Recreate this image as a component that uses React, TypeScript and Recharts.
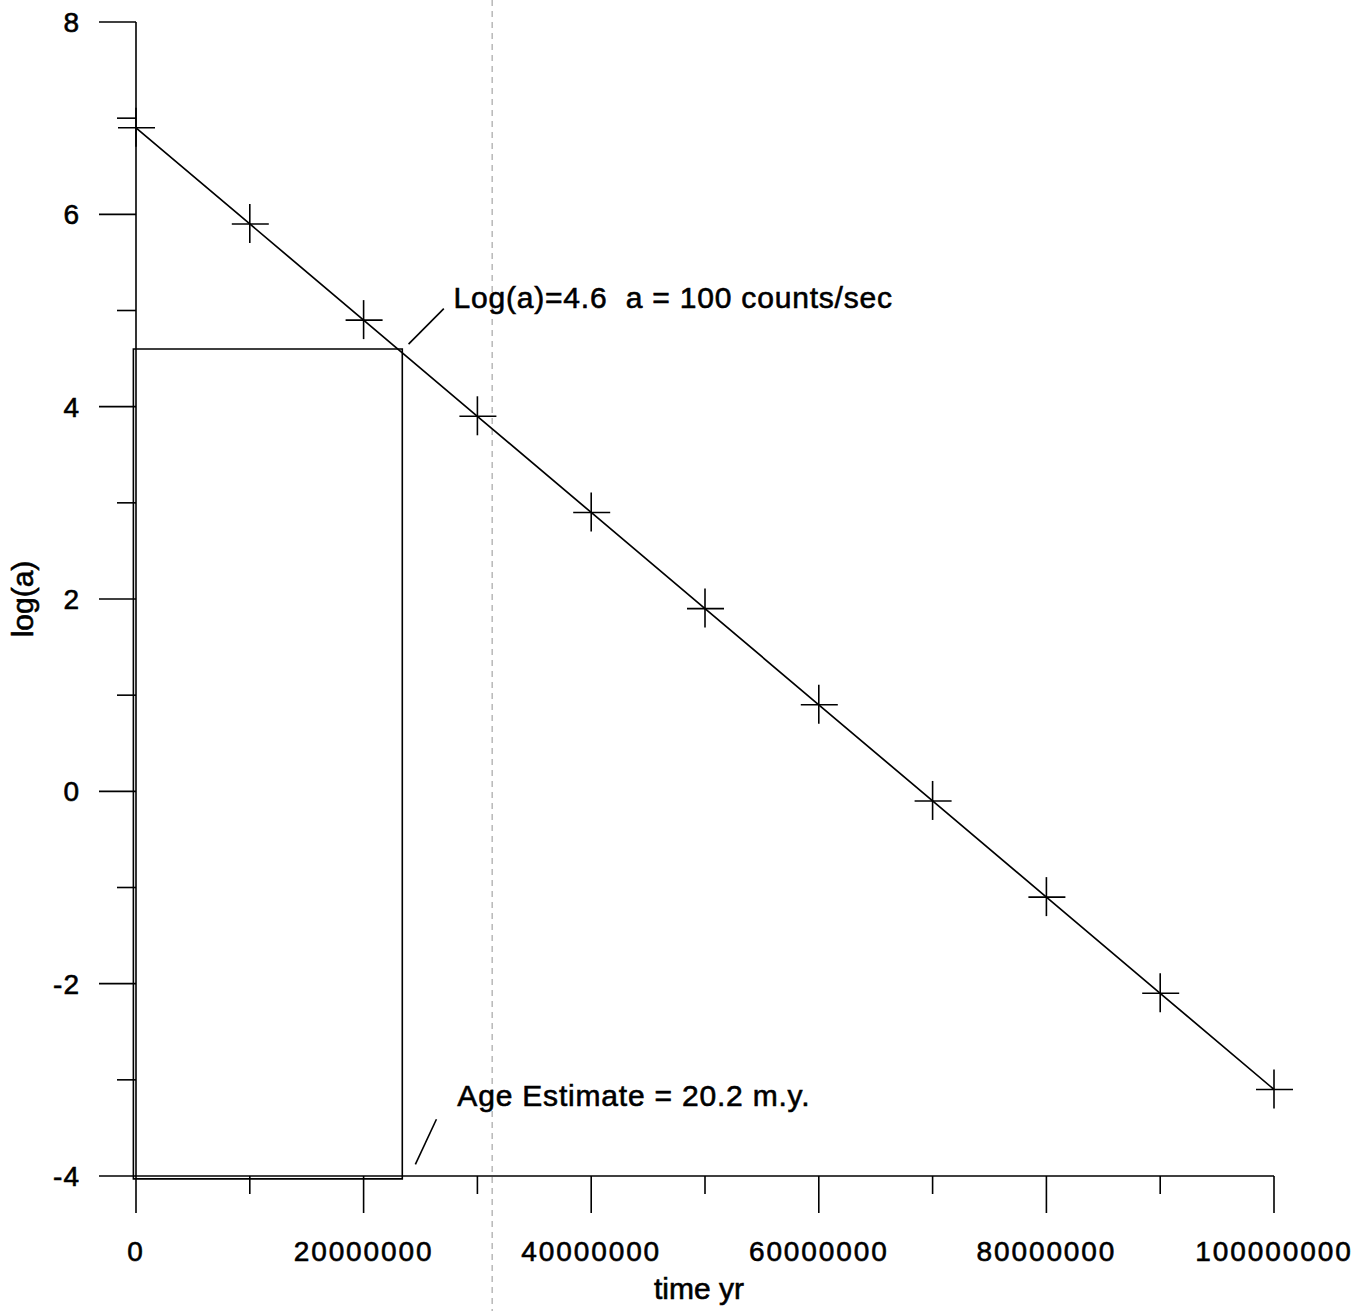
import React from "react";
import {
  ComposedChart,
  Line,
  XAxis,
  YAxis,
  ReferenceArea,
  ReferenceLine,
  ReferenceDot,
} from "recharts";

// time in years and measured log(activity)
const times = [0, 10000000, 20000000, 30000000, 40000000, 50000000, 60000000, 70000000, 80000000, 90000000, 100000000];
const logA = [6.9, 5.9, 4.9, 3.9, 2.9, 1.9, 0.9, -0.1, -1.1, -2.1, -3.1];

const xTicks = [0, 10000000, 20000000, 30000000, 40000000, 50000000, 60000000, 70000000, 80000000, 90000000, 100000000];
const yTicks = [-4, -3, -2, -1, 0, 1, 2, 3, 4, 5, 6, 7, 8];

// reading box: log(a)=4.6 meets the line
const boxX = [-230000, 23400000];
const boxY = [-4.03, 4.6];
const markerX = 31300000;

const leaderTop = [{ x: 23950000, y: 4.65 }, { x: 27050000, y: 5.02 }];
const leaderBottom = [{ x: 24550000, y: -3.88 }, { x: 26400000, y: -3.41 }];

const notes = [
  { x: 27900000, y: 5.03, text: "Log(a)=4.6  a = 100 counts/sec" },
  { x: 28240000, y: -3.27, text: "Age Estimate = 20.2 m.y." },
];

const data = times.map((t, i) => ({ t, v: logA[i] }));

const FONT = "'Liberation Sans', Arial, Helvetica, sans-serif";
const ink = { fill: "#000", stroke: "#000", strokeWidth: 0.6 };

const XTick = (props: any) => {
  const { x, y, payload } = props;
  const major = payload.value % 20000000 === 0;
  return (
    <g>
      <line x1={x} x2={x} y1={y} y2={y + (major ? 37 : 18)} stroke="#000" strokeWidth={1.6} />
      {major && (
        <text x={x} y={y + 85} textAnchor="middle" fontFamily={FONT} fontSize={28} letterSpacing={1.9} {...ink}>
          {payload.value}
        </text>
      )}
    </g>
  );
};

const YTick = (props: any) => {
  const { x, y, payload } = props;
  const major = payload.value % 2 === 0;
  return (
    <g>
      <line x1={x - (major ? 37 : 19)} x2={x} y1={y} y2={y} stroke="#000" strokeWidth={1.6} />
      {major && (
        <text x={x - 56} y={y} dy="0.36em" textAnchor="end" fontFamily={FONT} fontSize={28} letterSpacing={1} {...ink}>
          {payload.value}
        </text>
      )}
    </g>
  );
};

const Cross = (props: any) => {
  const { cx, cy, index } = props;
  if (cx == null || cy == null) return <g key={index} />;
  return (
    <g key={index}>
      <line x1={cx - 18} x2={cx + 19} y1={cy} y2={cy} stroke="#000" strokeWidth={1.6} />
      <line x1={cx} x2={cx} y1={cy - 20} y2={cy + 19} stroke="#000" strokeWidth={1.6} />
    </g>
  );
};

export default function App() {
  return (
    <div style={{ position: "absolute", left: 0, top: 0, width: 1364, height: 1311, background: "#fff" }}>
      <ComposedChart
        width={1364}
        height={1311}
        data={data}
        margin={{ top: 22, right: 90, bottom: 0, left: 0 }}
      >
        <XAxis
          type="number"
          dataKey="t"
          domain={[0, 100000000]}
          ticks={xTicks}
          interval={0}
          height={135}
          tickSize={0}
          tickMargin={0}
          tickLine={false}
          axisLine={{ stroke: "#000", strokeWidth: 1.6 }}
          tick={<XTick />}
          label={(p: any) => (
            <text
              x={p.viewBox.x + p.viewBox.width / 2 - 6}
              y={p.viewBox.y + 123}
              textAnchor="middle"
              fontFamily={FONT}
              fontSize={30}
              {...ink}
            >
              time yr
            </text>
          )}
        />
        <YAxis
          type="number"
          domain={[-4, 8]}
          ticks={yTicks}
          interval={0}
          width={136}
          tickSize={0}
          tickMargin={0}
          tickLine={false}
          axisLine={{ stroke: "#000", strokeWidth: 1.6 }}
          tick={<YTick />}
          label={(p: any) => {
            const cx = p.viewBox.x + 33;
            const cy = p.viewBox.y + p.viewBox.height / 2;
            return (
              <text
                x={cx}
                y={cy}
                transform={`rotate(-90, ${cx}, ${cy})`}
                textAnchor="middle"
                fontFamily={FONT}
                fontSize={30}
                {...ink}
              >
                log(a)
              </text>
            );
          }}
        />
        <ReferenceLine
          x={markerX}
          stroke="#b0b0b0"
          ifOverflow="visible"
          shape={(p: any) => (
            <line x1={p.x1} x2={p.x2} y1={0} y2={1311} stroke="#b8b8b8" strokeWidth={1.5} strokeDasharray="6 5" />
          )}
        />
        <ReferenceArea
          x1={boxX[0]}
          x2={boxX[1]}
          y1={boxY[0]}
          y2={boxY[1]}
          fill="none"
          fillOpacity={0}
          stroke="#000"
          strokeWidth={1.6}
          ifOverflow="visible"
        />
        <ReferenceLine segment={leaderTop} stroke="#000" strokeWidth={1.6} ifOverflow="visible" />
        <ReferenceLine segment={leaderBottom} stroke="#000" strokeWidth={1.6} ifOverflow="visible" />
        {notes.map((n) => (
          <ReferenceDot
            key={n.text}
            x={n.x}
            y={n.y}
            r={0}
            ifOverflow="visible"
            shape={(p: any) => (
              <text
                x={p.cx}
                y={p.cy}
                fontFamily={FONT}
                fontSize={30}
                letterSpacing={0.8}
                style={{ whiteSpace: "pre" }}
                {...ink}
              >
                {n.text}
              </text>
            )}
          />
        ))}
        <Line
          type="linear"
          dataKey="v"
          stroke="#000"
          strokeWidth={1.7}
          dot={(p: any) => <Cross key={p.index} {...p} />}
          activeDot={false}
          isAnimationActive={false}
        />
      </ComposedChart>
    </div>
  );
}
